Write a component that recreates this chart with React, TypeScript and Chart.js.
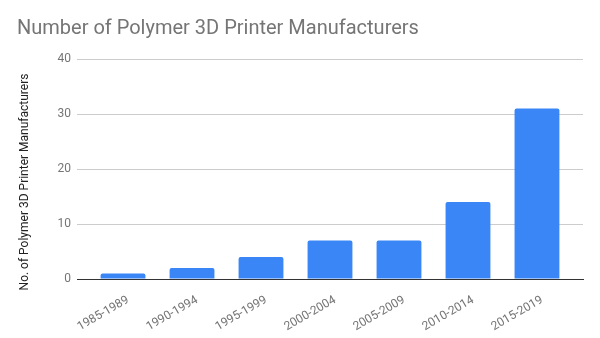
import React, { useEffect, useRef } from "react";
import { Chart, registerables } from "chart.js";

Chart.register(...registerables);

const categories = ["1985-1989", "1990-1994", "1995-1999", "2000-2004", "2005-2009", "2010-2014", "2015-2019"];
const manufacturers = [1, 2, 4, 7, 7, 14, 31];
const yTicks = [0, 10, 20, 30, 40];
const yTitle = "No. of Polymer 3D Printer Manufacturers";

const yTitlePlugin = {
  id: "yTitlePlugin",
  afterDraw(chart: any) {
    const { ctx, chartArea } = chart;
    ctx.save();
    ctx.translate(25, (chartArea.top + chartArea.bottom) / 2 + 13);
    ctx.rotate(-Math.PI / 2);
    ctx.textAlign = "center";
    ctx.textBaseline = "middle";
    ctx.fillStyle = "#222222";
    ctx.font = "12px Roboto";
    ctx.fillText(yTitle, 0, 0);
    ctx.restore();
  },
};

export default function App() {
  const ref = useRef<HTMLCanvasElement>(null);
  useEffect(() => {
    document.body.style.margin = "0";
    const ctx = ref.current!;
    const chart = new Chart(ctx, {
      type: "bar",
      data: {
        datasets: [
          {
            label: yTitle,
            data: manufacturers.map((v, i) => ({ x: i, y: v })),
            backgroundColor: "#3b86f7",
            categoryPercentage: 0.65,
            barPercentage: 1,
            borderRadius: { topLeft: 2, topRight: 2 },
            borderSkipped: "bottom",
          },
        ],
      },
      plugins: [yTitlePlugin],
      options: {
        animation: false,
        responsive: false,
        layout: { padding: { left: 17, right: 17, top: 0, bottom: 0 } },
        plugins: {
          legend: { display: false },
          tooltip: { enabled: false },
          title: {
            display: true,
            text: "Number of Polymer 3D Printer Manufacturers",
            align: "start",
            color: "#757575",
            font: { family: "Roboto", size: 20, weight: "normal" },
            padding: { top: 17, bottom: 18 },
          },
        },
        scales: {
          x: {
            type: "linear",
            min: -0.667,
            max: 6.667,
            offset: false,
            afterBuildTicks: (s: any) => {
              s.ticks = categories.map((_, i) => ({ value: i }));
            },
            grid: { display: false },
            border: { display: true, color: "#333333", width: 1 },
            ticks: {
              color: "#757575",
              font: { family: "Roboto", size: 12 },
              autoSkip: false,
              minRotation: 30,
              maxRotation: 30,
              padding: 6,
              labelOffset: 5,
              callback: (v: any) => categories[Math.round(Number(v))] ?? "",
            },
            afterFit: (s: any) => {
              s.height = 59;
            },
          },
          y: {
            min: 0,
            max: 40,
            afterBuildTicks: (s: any) => {
              s.ticks = yTicks.map((v) => ({ value: v }));
            },
            grid: { color: "#cccccc", drawTicks: false },
            border: { display: false },
            ticks: {
              color: "#757575",
              font: { family: "Roboto", size: 12 },
              padding: 6,
            },
            afterFit: (s: any) => {
              s.width = 60;
            },
          },
        },
      },
    });
    return () => chart.destroy();
  }, []);
  return (
    <div style={{ width: 600, height: 338, position: "relative" }}>
      <canvas ref={ref} width={600} height={338} style={{ width: 600, height: 338, display: "block" }} />
    </div>
  );
}
